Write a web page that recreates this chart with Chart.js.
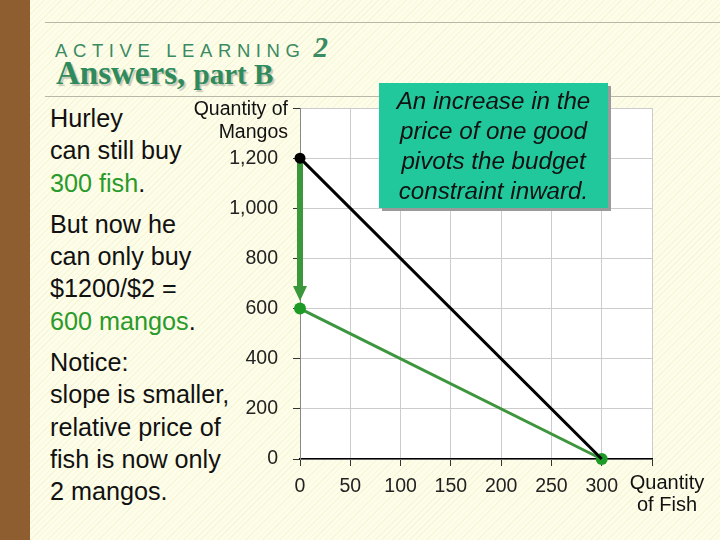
<!DOCTYPE html>
<html>
<head>
<meta charset="utf-8">
<script src="https://cdn.jsdelivr.net/npm/chart.js@4"></script>
<style>
  html,body{margin:0;padding:0;}
  body{width:720px;height:540px;position:relative;overflow:hidden;
    background:repeating-linear-gradient(135deg,#fdfdea 0px,#fdfdea 3px,#f6f6d8 3px,#f6f6d8 4px);
    font-family:"Liberation Sans",Arial,sans-serif;}
  #bar{position:absolute;left:0;top:0;width:30px;height:540px;background:#8e5e31;}
  .rule{position:absolute;left:45px;width:675px;height:1px;background:#b8b8a8;}
  #al{position:absolute;left:55px;top:31px;font-size:18.5px;letter-spacing:5.6px;color:#3a8a62;white-space:nowrap;}
  #al b{font-family:"Liberation Serif",serif;font-style:italic;font-size:29px;letter-spacing:0;margin-left:8px;color:#3a8a62;}
  #ans{position:absolute;left:56px;top:55px;font-family:"Liberation Serif",serif;font-weight:bold;color:#2f8a5c;
    text-shadow:2px 2px 1px #c8c8b8;font-size:33px;white-space:nowrap;}
  #ans span{font-size:29px;}
  #left{position:absolute;left:50px;top:102px;font-size:25.2px;line-height:32.3px;color:#111;white-space:nowrap;}
  #left p{margin:0 0 9px 0;}
  .g{color:#2a9a2a;}
  #ytitle{position:absolute;left:150px;top:97px;width:138px;text-align:right;font-size:19.5px;line-height:23px;color:#111;}
  #xtitle{position:absolute;left:615px;top:471px;width:104px;text-align:center;font-size:20px;line-height:22px;color:#111;}
  #box{position:absolute;left:379px;top:83px;width:229px;height:125px;background:#20c89c;
    box-shadow:3px 3px 0 #9a9a9a;text-align:center;font-style:italic;font-size:24.2px;line-height:30px;color:#111;padding-top:3px;box-sizing:border-box;white-space:nowrap;}
  canvas{position:absolute;left:0;top:0;}
</style>
</head>
<body>
<div id="bar"></div>
<div class="rule" style="top:22px"></div>
<div class="rule" style="top:96px"></div>
<div id="al">ACTIVE LEARNING<b>2</b></div>
<div id="ans">Answers, <span>part B</span></div>
<div id="left">
  <p>Hurley<br>can still buy<br><span class="g">300 fish</span>.</p>
  <p>But now he<br>can only buy<br>$1200/$2 =<br><span class="g">600 mangos</span>.</p>
  <p>Notice:<br>slope is smaller,<br>relative price of<br>fish is now only<br>2 mangos.</p>
</div>
<canvas id="c" width="720" height="540"></canvas>
<div id="ytitle">Quantity of<br>Mangos</div>
<div id="xtitle">Quantity<br>of Fish</div>
<div id="box">An increase in the<br>price of one good<br>pivots the budget<br>constraint inward.</div>
<script>
// Data
const fishTicks = [0, 50, 100, 150, 200, 250, 300];
const mangoTicks = [0, 200, 400, 600, 800, 1000, 1200];
const oldBudgetFish = [0, 300];
const oldBudgetMangos = [1200, 0];
const newBudgetFish = [0, 300];
const newBudgetMangos = [600, 0];
const arrowFrom = [0, 1200];
const arrowTo = [0, 630];

const toPts = (xs, ys) => xs.map((x, i) => ({x: x, y: ys[i]}));

const arrowPlugin = {
  id: 'arrow',
  beforeDatasetsDraw(chart) {
    const {ctx, scales: {x, y}} = chart;
    const x0 = x.getPixelForValue(arrowFrom[0]);
    const y0 = y.getPixelForValue(arrowFrom[1]);
    const x1 = x.getPixelForValue(arrowTo[0]);
    const y1 = y.getPixelForValue(arrowTo[1]);
    ctx.save();
    ctx.strokeStyle = '#3a983a';
    ctx.fillStyle = '#3a983a';
    ctx.lineWidth = 6;
    ctx.beginPath();
    ctx.moveTo(x0, y0);
    ctx.lineTo(x1, y1 - 12);
    ctx.stroke();
    ctx.beginPath();
    ctx.moveTo(x1 - 7, y1 - 15);
    ctx.lineTo(x1 + 7, y1 - 15);
    ctx.lineTo(x1, y1);
    ctx.closePath();
    ctx.fill();
    ctx.restore();
  }
};

const tickFont = {family: '"Liberation Sans", Arial, sans-serif', size: 19.5};

new Chart(document.getElementById('c'), {
  type: 'scatter',
  data: {
    datasets: [
      {
        data: toPts(oldBudgetFish, oldBudgetMangos),
        showLine: true,
        clip: false,
        borderColor: '#000',
        borderWidth: 3,
        pointRadius: [5.5, 0],
        pointBackgroundColor: '#000',
        pointBorderWidth: 0
      },
      {
        data: toPts(newBudgetFish, newBudgetMangos),
        showLine: true,
        clip: false,
        borderColor: '#3d963d',
        borderWidth: 3,
        pointRadius: 6,
        pointBackgroundColor: '#1e9a26',
        pointBorderWidth: 0
      }
    ]
  },
  options: {
    responsive: false,
    animation: false,
    devicePixelRatio: 1,
    layout: {padding: {left: 0, top: 108, right: 68, bottom: 0}},
    plugins: {legend: {display: false}, tooltip: {enabled: false}},
    scales: {
      x: {
        type: 'linear', min: 0, max: 350,
        afterBuildTicks: s => { s.ticks = fishTicks.concat([350]).map(v => ({value: v})); },
        ticks: {font: tickFont, color: '#222', padding: 9, maxRotation: 0,
          callback: v => fishTicks.includes(v) ? String(v) : ''},
        grid: {color: '#cccccc', tickColor: '#333', tickLength: 7, lineWidth: 1},
        border: {color: '#000', width: 1.5},
        afterFit: s => { s.height = 81; }
      },
      y: {
        type: 'linear', min: 0, max: 1400,
        afterBuildTicks: s => { s.ticks = mangoTicks.concat([1400]).map(v => ({value: v})); },
        ticks: {font: tickFont, color: '#222', padding: 15,
          callback: v => mangoTicks.includes(v) ? v.toLocaleString('en-US') : ''},
        grid: {color: '#cccccc', tickColor: '#333', tickLength: 7, lineWidth: 1},
        border: {color: '#888', width: 1},
        afterFit: s => { s.width = 300; }
      }
    }
  },
  plugins: [arrowPlugin, {
    id: 'bg',
    beforeDraw(chart) {
      const {ctx, chartArea: a} = chart;
      ctx.save();
      ctx.fillStyle = '#fff';
      ctx.fillRect(a.left, a.top, a.right - a.left, a.bottom - a.top);
      ctx.restore();
    }
  }]
});
</script>
</body>
</html>
